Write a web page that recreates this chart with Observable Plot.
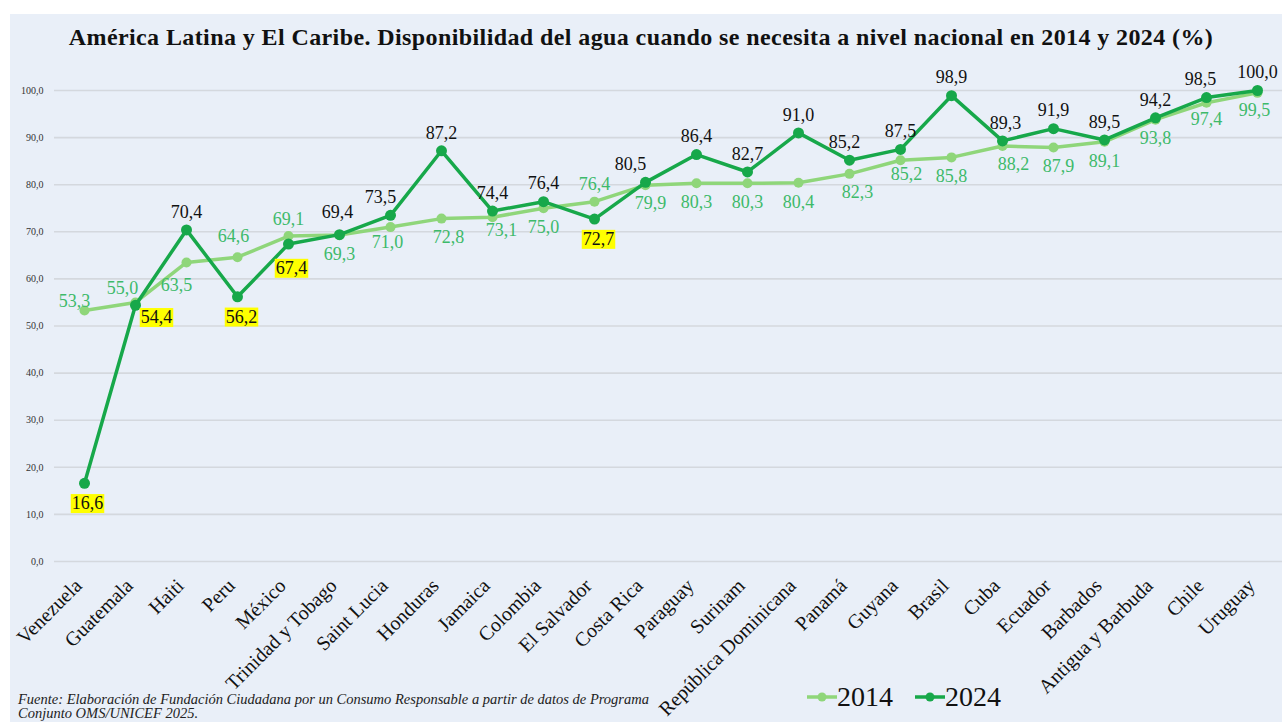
<!DOCTYPE html>
<html>
<head>
<meta charset="utf-8">
<script src="https://cdn.jsdelivr.net/npm/d3@7"></script>
<script src="https://cdn.jsdelivr.net/npm/@observablehq/plot@0.6"></script>
<style>
  html, body { margin:0; padding:0; background:#ffffff; }
  #page { position:relative; width:1282px; height:722px; overflow:hidden; background:#ffffff; font-family:"Liberation Serif","Times New Roman",serif; }
  #panel { position:absolute; left:10px; top:14px; width:1272px; height:708px; background:#e9eff8; }
  #title { position:absolute; left:0; top:24px; width:1282px; text-align:center; font-weight:bold; font-size:24px; letter-spacing:0.4px; color:#111; white-space:nowrap; }
  #chart { position:absolute; left:0; top:60px; }
  #caption { position:absolute; left:18px; top:693px; font-style:italic; font-size:14.5px; line-height:13.5px; color:#222; white-space:nowrap; }
  #legend { position:absolute; left:807px; top:681px; font-size:28px; color:#111; display:flex; align-items:center; white-space:nowrap; }
  #legend .item { display:flex; align-items:center; margin-right:22px; }
</style>
</head>
<body>
<div id="page">
  <div id="panel"></div>
  <div id="title">América Latina y El Caribe. Disponibilidad del agua cuando se necesita a nivel nacional en 2014 y 2024 (%)</div>
  <div id="chart"></div>
  <div id="caption">Fuente: Elaboración de Fundación Ciudadana por un Consumo Responsable a partir de datos de Programa<br>Conjunto OMS/UNICEF 2025.</div>
  <div id="legend"></div>
</div>
<script>
const countries = ["Venezuela","Guatemala","Haiti","Peru","México","Trinidad y Tobago","Saint Lucia","Honduras","Jamaica","Colombia","El Salvador","Costa Rica","Paraguay","Surinam","República Dominicana","Panamá","Guyana","Brasil","Cuba","Ecuador","Barbados","Antigua y Barbuda","Chile","Uruguay"];
const values2014 = [53.3,55.0,63.5,64.6,69.1,69.3,71.0,72.8,73.1,75.0,76.4,79.9,80.3,80.3,80.4,82.3,85.2,85.8,88.2,87.9,89.1,93.8,97.4,99.5];
const values2024 = [16.6,54.4,70.4,56.2,67.4,69.4,73.5,87.2,74.4,76.4,72.7,80.5,86.4,82.7,91.0,85.2,87.5,98.9,89.3,91.9,89.5,94.2,98.5,100.0];
const yTicks = [0,10,20,30,40,50,60,70,80,90,100];
const seriesNames = ["2014","2024"];

// label placement (not data)
const above2014 = new Set(["Venezuela","Guatemala","Peru","México","El Salvador"]);
const highlighted2024 = new Set(["Venezuela","Guatemala","Peru","México","El Salvador"]);
const shift2014 = {"Venezuela":[-10,8],"Guatemala":[-13,3],"Haiti":[-10,4],"Peru":[-4,-4],"Saint Lucia":[-3,-4],"Honduras":[7,0],"Jamaica":[9,-6],"Costa Rica":[5,-1],"Panamá":[8,-1],"Guyana":[6,-5],"Cuba":[11,-1],"Ecuador":[5,0],"Chile":[0,-3],"Uruguay":[-3,-2]};
const shift2024 = {"Guatemala":[21,-8],"México":[3,4],"Costa Rica":[-15,0],"Saint Lucia":[-10,0],"Chile":[-6,0],"Panamá":[-5,0],"Trinidad y Tobago":[-2,-4],"Cuba":[3,0],"Venezuela":[3,0],"El Salvador":[4,0],"Peru":[4,0]};

const c14 = "#8fd67a", c24 = "#17a84a", t14 = "#3dba6a";
const fmt = d => d.toFixed(1).replace(".", ",");
const rows = countries.map((c,i) => ({country:c, v2014:values2014[i], v2024:values2024[i]}));

const labelMarks = [];
rows.forEach(r => {
  const s1 = shift2014[r.country] || [0,0];
  const up1 = above2014.has(r.country);
  labelMarks.push(Plot.text([r], {x:"country", y:"v2014", text:d => fmt(d.v2014), fill:t14, fontSize:18,
    dx:s1[0], dy:(up1 ? -17 : 19) + s1[1]}));
});
rows.forEach(r => {
  const s2 = shift2024[r.country] || [0,0];
  const hl = highlighted2024.has(r.country);
  labelMarks.push(Plot.text([r], {x:"country", y:"v2024", text:d => fmt(d.v2024), fill:"#111", fontSize:18,
    className: hl ? "hl" : undefined,
    dx:s2[0], dy:(hl ? 20 : -18) + s2[1]}));
});

const plot = Plot.plot({
  width:1282, height:662,
  marginTop:30, marginBottom:161, marginLeft:54, marginRight:0,
  style:{background:"transparent", fontFamily:"'Liberation Serif','Times New Roman',serif", overflow:"visible"},
  x:{type:"point", domain:countries, range:[80,1261], padding:0},
  y:{domain:[0,100]},
  marks:[
    Plot.ruleY(yTicks, {stroke:"#d4d8de", strokeWidth:1.6}),
    Plot.axisY(yTicks, {tickSize:0, tickPadding:11, tickFormat:fmt, fontSize:10, fill:"#333", label:null}),
    Plot.axisX({tickSize:0, tickRotate:-45, tickPadding:21, fontSize:20, fill:"#111", label:null, dx:-6}),
    Plot.line(rows, {x:"country", y:"v2014", stroke:c14, strokeWidth:3.5}),
    Plot.dot(rows, {x:"country", y:"v2014", r:5, fill:c14}),
    Plot.line(rows, {x:"country", y:"v2024", stroke:c24, strokeWidth:3.5}),
    Plot.dot(rows, {x:"country", y:"v2024", r:5.5, fill:c24}),
    ...labelMarks
  ]
});
document.getElementById("chart").appendChild(plot);

// yellow highlight boxes behind highlighted labels
d3.select(plot).selectAll("g.hl text").each(function() {
  const b = this.getBBox();
  const t = this.getAttribute("transform");
  const r = document.createElementNS("http://www.w3.org/2000/svg","rect");
  r.setAttribute("x", b.x - 1); r.setAttribute("y", b.y + 1);
  r.setAttribute("width", b.width + 2); r.setAttribute("height", b.height - 1);
  r.setAttribute("fill", "#ffff00");
  if (t) r.setAttribute("transform", t);
  this.parentNode.insertBefore(r, this);
});

// legend
const leg = document.getElementById("legend");
seriesNames.forEach((name,i) => {
  const col = i === 0 ? c14 : c24;
  const item = document.createElement("div");
  item.className = "item";
  item.innerHTML = `<svg width="30" height="12"><line x1="0" y1="6" x2="30" y2="6" stroke="${col}" stroke-width="3.5"/><circle cx="15" cy="6" r="4.5" fill="${col}"/></svg><span>${name}</span>`;
  leg.appendChild(item);
});
</script>
</body>
</html>
